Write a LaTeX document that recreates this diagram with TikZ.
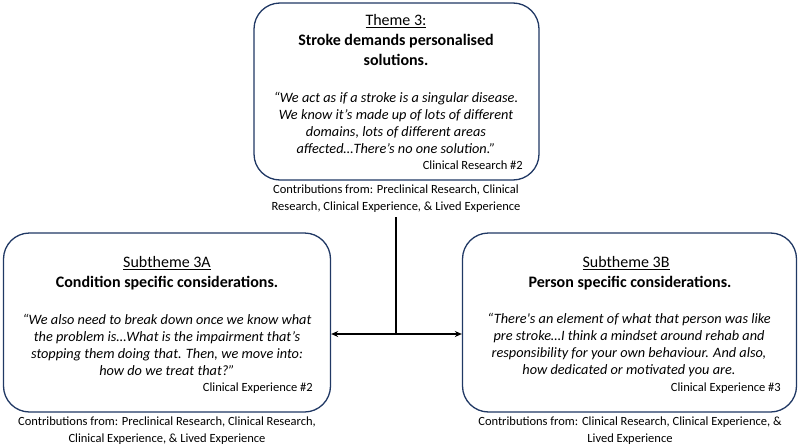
\documentclass[tikz,border=0pt]{standalone}
\usepackage{fontspec}
\setmainfont{Carlito}
\usepackage{tikz}
\usetikzlibrary{arrows.meta, positioning}
\definecolor{boxnavy}{HTML}{203864}

\begin{document}
\begin{tikzpicture}[x=1pt,y=-1pt,
    themebox/.style={draw=boxnavy, line width=1.3pt, rounded corners=26pt, fill=white, inner sep=0pt},
    heading/.style={inner sep=0pt, font=\fontsize{16}{20}\selectfont},
    title/.style={inner sep=0pt, align=center, font=\fontsize{16}{20}\selectfont\bfseries},
    quote/.style={inner sep=0pt, align=center, font=\fontsize{14.3}{17}\selectfont\itshape},
    source/.style={inner sep=0pt, anchor=east, font=\fontsize{12.5}{15}\selectfont},
    contrib/.style={inner sep=0pt, align=center, font=\fontsize{12.5}{17}\selectfont},
    link/.style={line width=2pt, black}]
    \useasboundingbox (0,0) rectangle (798,447);

    % main theme
    \node (theme) at (396.5,91.5)[themebox, minimum width=285pt, minimum height=177pt] {};
    \node (themehead) at (396,21)[heading] {\underline{Theme 3:}};
    \node (themetitle) at (396,50)[title] {Stroke demands personalised\\solutions.};
    \node (themequote) at (396,123)[quote] {“We act as if a stroke is a singular disease.\\We know it’s made up of lots of different\\domains, lots of different areas\\affected…There’s no one solution.”};
    \node (themesource) at (523,165)[source] {Clinical Research \#2};
    \node (themecontrib) at (396,199)[contrib] {Contributions from: Preclinical Research, Clinical\\Research, Clinical Experience, \& Lived Experience};

    % subtheme 3A
    \node (subA) at (167,322.5)[themebox, minimum width=327pt, minimum height=179pt] {};
    \node (subAhead) at (167,263)[heading] {\underline{Subtheme 3A}};
    \node (subAtitle) at (167,283)[title] {Condition specific considerations.};
    \node (subAquote) at (167,345)[quote] {“We also need to break down once we know what\\the problem is…What is the impairment that’s\\stopping them doing that. Then, we move into:\\how do we treat that?”};
    \node (subAsource) at (313,388)[source] {Clinical Experience \#2};
    \node (subAcontrib) at (167,431)[contrib] {Contributions from: Preclinical Research, Clinical Research,\\Clinical Experience, \& Lived Experience};

    % subtheme 3B
    \node (subB) at (629.5,322.5)[themebox, minimum width=334pt, minimum height=179pt] {};
    \node (subBhead) at (626,263)[heading] {\underline{Subtheme 3B}};
    \node (subBtitle) at (630,283)[title] {Person specific considerations.};
    \node (subBquote) at (629,345)[quote] {“There\textquotesingle s an element of what that person was like\\pre stroke…I think a mindset around rehab and\\responsibility for your own behaviour. And also,\\how dedicated or motivated you are.};
    \node (subBsource) at (781,388)[source] {Clinical Experience \#3};
    \node (subBcontrib) at (630,431)[contrib] {Contributions from: Clinical Research, Clinical Experience, \&\\Lived Experience};

    % connectors
    \coordinate (stem) at (396,217);
    \coordinate (split) at (396,334);
    \draw[link] (stem) -- (split);
    \draw[link, -{Stealth[length=7pt, width=6pt]}] (split) -- (split -| subA.east);
    \draw[link, -{Stealth[length=7pt, width=6pt]}] (split) -- (split -| subB.west);
\end{tikzpicture}
\end{document}
